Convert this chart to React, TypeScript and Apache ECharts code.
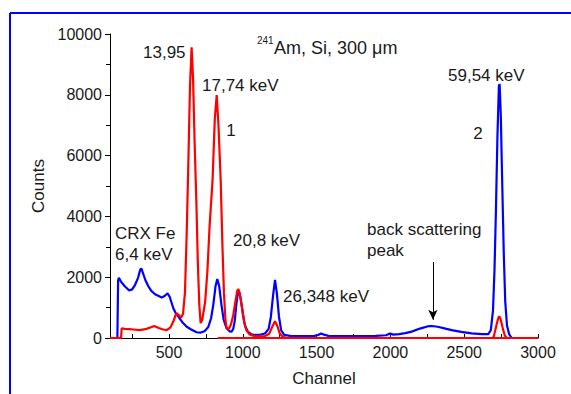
import React, { useEffect, useRef } from "react";
import * as echarts from "echarts";

// Curve 2 (blue)
const blueChannels = [
  100, 150, 155, 160, 175, 200, 230, 250, 270, 290, 305, 312, 320, 340, 360, 380, 405, 430, 450, 470,
  490, 505, 529, 545, 563, 590, 620, 650, 687, 715, 740, 765, 785, 800, 815, 827, 840, 855, 870, 890,
  910, 924, 935, 945, 955, 965, 972, 985, 1000, 1015, 1035, 1060, 1082, 1120, 1150, 1175, 1190, 1205, 1218, 1230,
  1245, 1260, 1280, 1320, 1400, 1480, 1510, 1530, 1550, 1580, 1700, 1800, 1900, 1970, 1997, 2020, 2060, 2100, 2144, 2200,
  2250, 2280, 2320, 2380, 2415, 2480, 2550, 2620, 2663, 2680, 2695, 2705, 2715, 2725, 2735, 2740, 2748, 2758, 2768, 2778,
  2790, 2805, 2822, 3000,
];
const blueCounts = [
  0, 0, 1900, 1980, 1850, 1700, 1560, 1600, 1750, 1980, 2250, 2290, 2180, 1900, 1700, 1550, 1440, 1380, 1330, 1380,
  1470, 1350, 980, 820, 700, 520, 370, 280, 190, 180, 220, 350, 650, 1100, 1700, 1940, 1700, 1100, 600, 320,
  220, 210, 300, 550, 1050, 1450, 1560, 1300, 800, 400, 200, 120, 100, 110, 150, 300, 700, 1400, 1910, 1500,
  700, 250, 100, 70, 60, 60, 100, 150, 110, 70, 60, 60, 70, 90, 150, 110, 130, 160, 210, 310,
  380, 395, 370, 300, 260, 200, 150, 130, 130, 250, 900, 2200, 4200, 6600, 8300, 8350, 7300, 5000, 2800, 1200,
  400, 120, 0, 0,
];

// Curve 1 (red)
const redChannels = [
  100, 175, 179, 200, 230, 260, 300, 340, 370, 400, 430, 460, 484, 510, 529, 545, 552, 565, 581, 595,
  608, 620, 632, 642, 653, 663, 673, 685, 695, 705, 714, 725, 745, 760, 775, 795, 810, 823, 835, 850,
  862, 872, 882, 890, 905, 920, 935, 950, 962, 970, 980, 995, 1010, 1025, 1045, 1080, 1116, 1150, 1180, 1200,
  1218, 1235, 1250, 1270, 1300, 2690, 2700, 2710, 2720, 2730, 2737, 2745, 2755, 2765, 2775, 2790, 3000,
];
const redCounts = [
  0, 0, 320, 300, 290, 280, 260, 290, 340, 395, 330, 280, 260, 350, 540, 760, 810, 760, 670, 800,
  1500, 3500, 6000, 8300, 9560, 8500, 6500, 4500, 2500, 1100, 490, 600, 1200, 2200, 3700, 5200, 7200, 7990, 7000, 5200,
  3000, 1500, 600, 320, 300, 450, 750, 1200, 1550, 1610, 1450, 1000, 500, 250, 120, 60, 50, 60, 150, 380,
  550, 380, 150, 40, 0, 0, 40, 250, 450, 640, 720, 640, 450, 250, 80, 0, 0,
];

// red zero line along the axis
const redBaseChannels = [830, 3000];
const redBaseCounts = [0, 0];

// axis ticks
const xLabelValues = [500, 1000, 1500, 2000, 2500, 3000];
const xTickValues = [250, 500, 750, 1000, 1250, 1500, 1750, 2000, 2250, 2500, 2750, 3000];

// arrow for back scattering peak [channel, count]
const arrowStart = [2288, 2500];
const arrowEnd = [2288, 600];

const FONT = "'Liberation Sans', Arial, Helvetica, sans-serif";
const TXT = "#1a1a1a";

const zip = (a: number[], b: number[]) => a.map((v, i) => [v, b[i]]);

export default function App() {
  const ref = useRef<HTMLDivElement>(null);
  useEffect(() => {
    if (!ref.current) return;
    const chart = echarts.init(ref.current, null, { renderer: "svg" });
    const annot = (text: string, x: number, y: number, align = "left", size = 17) => ({
      type: "text",
      x,
      y,
      silent: true,
      style: { text, fill: TXT, font: `${size}px ${FONT}`, align, verticalAlign: "middle" },
    });
    chart.setOption({
      animation: false,
      backgroundColor: "#ffffff",
      grid: { left: 110, right: 33, top: 34, bottom: 56, containLabel: false },
      xAxis: {
        type: "value",
        min: 100,
        max: 3000,
        name: "Channel",
        nameLocation: "middle",
        nameGap: 32,
        nameTextStyle: { fontFamily: FONT, fontSize: 17, color: TXT },
        axisLine: { show: true, lineStyle: { color: "#000", width: 1 } },
        axisTick: { show: true, inside: true, length: 4, customValues: xTickValues, lineStyle: { color: "#000" } },
        axisLabel: {
          customValues: xLabelValues,
          formatter: (v: number) => String(v),
          fontFamily: FONT,
          fontSize: 16,
          color: TXT,
          margin: 6,
        },
        splitLine: { show: false },
      },
      yAxis: {
        type: "value",
        min: 0,
        max: 10000,
        interval: 2000,
        name: "Counts",
        nameLocation: "middle",
        nameGap: 53,
        nameTextStyle: { fontFamily: FONT, fontSize: 17, color: TXT },
        axisLine: { show: true, lineStyle: { color: "#000", width: 1 } },
        axisTick: { show: true, inside: false, length: 5, lineStyle: { color: "#000" } },
        minorTick: { show: true, splitNumber: 2, length: 4, lineStyle: { color: "#000" } },
        axisLabel: { formatter: (v: number) => String(v), fontFamily: FONT, fontSize: 16, color: TXT, margin: 8 },
        splitLine: { show: false },
      },
      series: [
        {
          type: "line",
          name: "2",
          data: zip(blueChannels, blueCounts),
          showSymbol: false,
          clip: false,
          lineStyle: { color: "#0000ff", width: 2.2 },
          itemStyle: { color: "#0000ff" },
          markLine: {
            silent: true,
            symbol: ["none", "arrow"],
            symbolSize: [7, 10],
            label: { show: false },
            lineStyle: { color: "#000", width: 1, type: "solid" },
            data: [[{ coord: arrowStart }, { coord: arrowEnd }]],
          },
        },
        {
          type: "line",
          name: "base",
          data: zip(redBaseChannels, redBaseCounts),
          showSymbol: false,
          clip: false,
          lineStyle: { color: "#ff0000", width: 2.2 },
        },
        {
          type: "line",
          name: "1",
          data: zip(redChannels, redCounts),
          showSymbol: false,
          clip: false,
          lineStyle: { color: "#ff0000", width: 2.2 },
          itemStyle: { color: "#ff0000" },
        },
      ],
      graphic: [
        { type: "line", silent: true, shape: { x1: 10, y1: 13, x2: 571, y2: 13 }, style: { stroke: "#0000ff", lineWidth: 2 } },
        { type: "line", silent: true, shape: { x1: 10, y1: 13, x2: 10, y2: 394 }, style: { stroke: "#0000ff", lineWidth: 2 } },
        annot("13,95", 143, 52),
        annot("17,74 keV", 202, 85),
        annot("1", 231, 130, "center"),
        annot("241", 257, 40, "left", 10),
        annot("Am, Si, 300 μm", 274, 48, "left", 18),
        annot("59,54 keV", 448, 75),
        annot("2", 478, 133, "center"),
        annot("CRX Fe", 115, 233),
        annot("6,4 keV", 115, 254),
        annot("20,8 keV", 233, 240),
        annot("26,348 keV", 283, 296),
        annot("back scattering", 367, 229),
        annot("peak", 367, 250),
      ],
    });
    return () => chart.dispose();
  }, []);
  return <div ref={ref} style={{ width: 571, height: 394, position: "absolute", left: 0, top: 0 }} />;
}
